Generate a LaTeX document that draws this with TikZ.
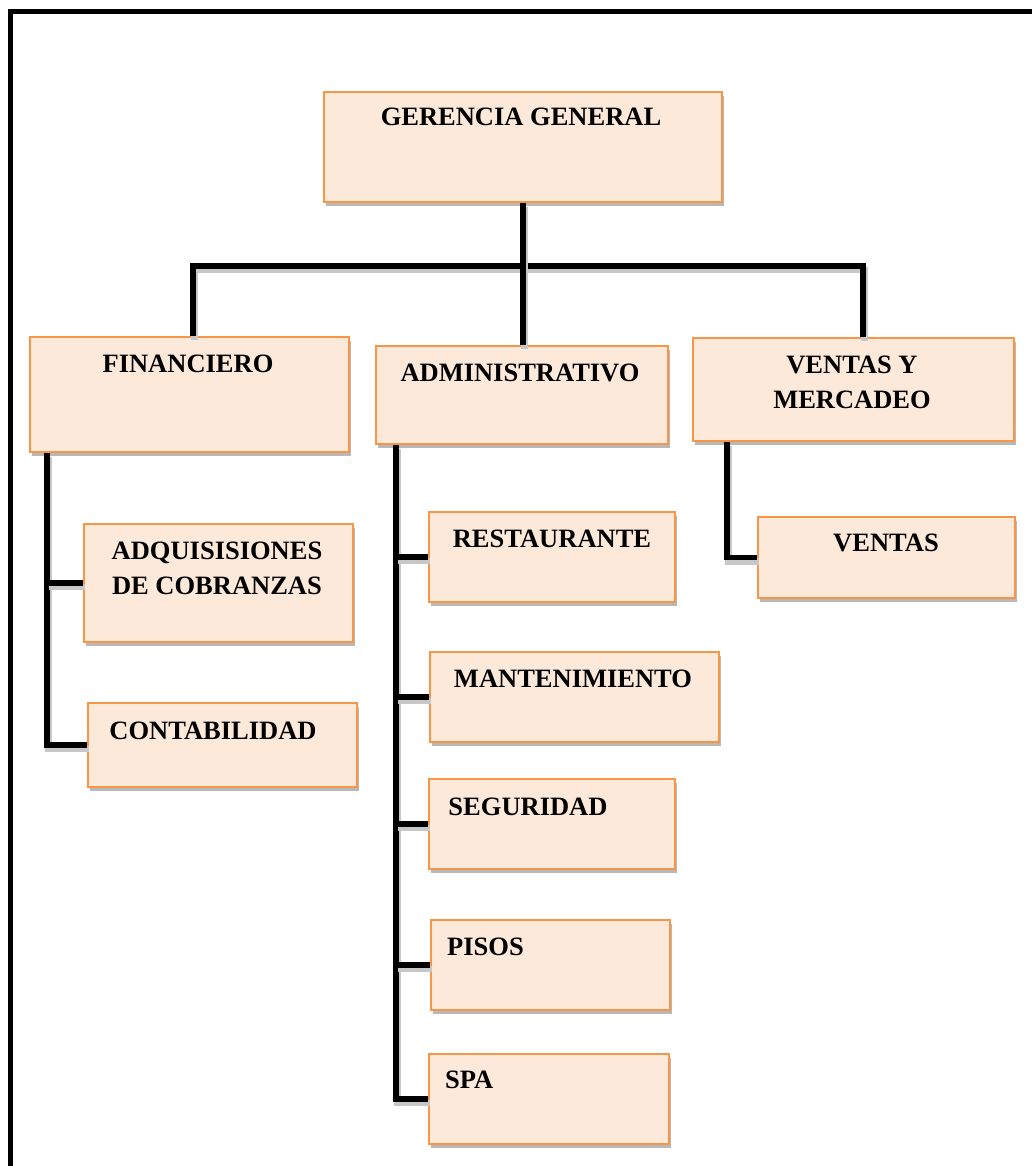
\documentclass[tikz,border=0pt]{standalone}
\usepackage{fontspec}
\setmainfont{Liberation Serif}
\usetikzlibrary{shadows}
\definecolor{boxfill}{HTML}{FDE9D9}
\definecolor{boxline}{HTML}{F79646}
\tikzset{
  orgbox/.style={draw=boxline, fill=boxfill, line width=1.8pt, rectangle, inner sep=0pt, anchor=north west,
    drop shadow={shadow xshift=2.5pt, shadow yshift=-4pt, opacity=0.28, fill=black}},
  lbl/.style={font=\fontsize{26.5}{35}\selectfont\bfseries, inner sep=0pt, align=center, anchor=base},
  conn/.style={line width=5.5pt, black, line join=miter,
    preaction={draw=black!22, line width=6.5pt, transform canvas={xshift=1.5pt, yshift=-4pt}}},
  frame/.style={line width=5pt, black, line join=miter}
}
\begin{document}
\begin{tikzpicture}[x=1pt,y=-1pt]
\useasboundingbox (0,0) rectangle (1032,1166);
% frame (top and left edges visible)
\draw[frame] (10.5,1170) -- (10.5,12) -- (1036,12);

% connector helper coordinates
\coordinate (barL) at (193,266);
\coordinate (barR) at (863,266);
\coordinate (fx) at (47,0);
\coordinate (ax) at (396,0);
\coordinate (vx) at (727,0);

% boxes
\node[orgbox, minimum width=398, minimum height=110] (gg)   at (323,91)   {};
\node[orgbox, minimum width=319, minimum height=115] (fin)  at (29,336)   {};
\node[orgbox, minimum width=292, minimum height=98]  (adm)  at (375,345)  {};
\node[orgbox, minimum width=321, minimum height=103] (vym)  at (692,337)  {};
\node[orgbox, minimum width=269, minimum height=118] (adq)  at (83,523)   {};
\node[orgbox, minimum width=269, minimum height=84]  (cont) at (87,702)   {};
\node[orgbox, minimum width=246, minimum height=90]  (rest) at (428,511)  {};
\node[orgbox, minimum width=289, minimum height=90]  (mant) at (429,651)  {};
\node[orgbox, minimum width=246, minimum height=90]  (seg)  at (428,778)  {};
\node[orgbox, minimum width=239, minimum height=90]  (pis)  at (430,919)  {};
\node[orgbox, minimum width=240, minimum height=90]  (spa)  at (428,1053) {};
\node[orgbox, minimum width=257, minimum height=81]  (ven)  at (757,516)  {};

% labels
\node[lbl] (ggt)   at (521,126) {GERENCIA GENERAL};
\node[lbl] (fint)  at (188,372) {FINANCIERO};
\node[lbl] (admt)  at (520,381) {ADMINISTRATIVO};
\node[lbl] (vymt)  at (852,408) {VENTAS Y\\MERCADEO};
\node[lbl] (vent)  at (886,551) {VENTAS};
\node[lbl] (adqt)  at (217,594) {ADQUISISIONES\\DE COBRANZAS};
\node[lbl] (contt) at (213,739) {CONTABILIDAD};
\node[lbl] (restt) at (552,547) {RESTAURANTE};
\node[lbl] (mantt) at (573,687) {MANTENIMIENTO};
\node[lbl] (segt)  at (528,815) {SEGURIDAD};
\node[lbl, anchor=base west] (pist) at (447,955) {PISOS};
\node[lbl, anchor=base west] (spat) at (445,1088) {SPA};

% top level
\draw[conn] (fin.north -| barL) -- (barL) -- (barR) -- (vym.north -| barR);
\draw[conn] (gg.south) -- (adm.north -| gg.south);

% financiero
\draw[conn] (fin.south -| fx) |- (cont.west);
\draw[conn] (adq.west -| fx) -- (adq.west);

% administrativo
\draw[conn] (adm.south -| ax) |- (spa.west);
\draw[conn] (rest.west -| ax) -- (rest.west);
\draw[conn] (mant.west -| ax) -- (mant.west);
\draw[conn] (seg.west -| ax) -- (seg.west);
\draw[conn] (pis.west -| ax) -- (pis.west);

% ventas
\draw[conn] (vym.south -| vx) |- (ven.west);
\end{tikzpicture}
\end{document}
